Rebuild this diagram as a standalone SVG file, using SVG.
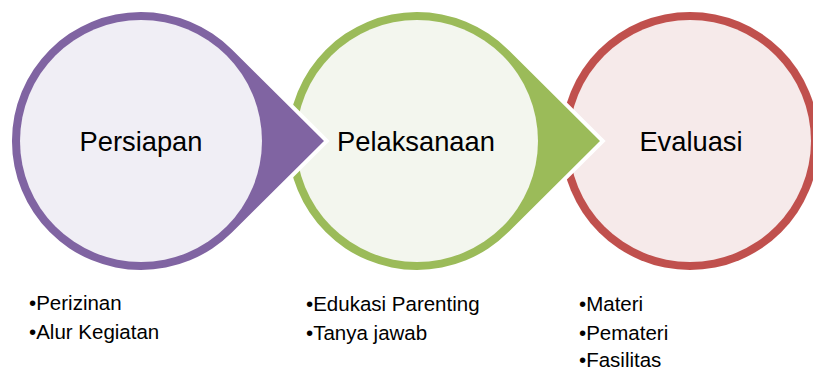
<svg xmlns="http://www.w3.org/2000/svg" width="813" height="371" viewBox="0 0 813 371">
  <style>
    .shape { stroke: #FFFFFF; stroke-width: 8; stroke-linejoin: miter; paint-order: stroke; }
    .label { font-family: "Liberation Sans", Arial, sans-serif; font-size: 27.3px; fill: #000000; text-anchor: middle; }
    .bullet { font-family: "Liberation Sans", Arial, sans-serif; font-size: 20.5px; fill: #000000; }
    .p1 { fill: #8064A2; } .f1 { fill: #F0EEF5; }
    .p2 { fill: #9BBB59; } .f2 { fill: #F3F6EE; }
    .p3 { fill: #C0504D; } .f3 { fill: #F6EAEA; }
  </style>
  <rect width="813" height="371" fill="#FFFFFF"/>
  <g id="connectors"/>
  <g id="node-evaluasi">
    <circle class="shape p3" cx="690" cy="141" r="129"/>
    <circle class="f3" cx="690" cy="141" r="121"/>
    <text class="label" x="691" y="151">Evaluasi</text>
    <text class="bullet" x="579" y="311">•Materi</text>
    <text class="bullet" x="579" y="340">•Pemateri</text>
    <text class="bullet" x="579" y="367">•Fasilitas</text>
  </g>
  <g id="node-pelaksanaan">
    <path class="shape p2" d="M600,141 L507.9,49.5 A129,129 0 1 0 507.9,232.5 Z"/>
    <circle class="f2" cx="417" cy="141" r="121"/>
    <text class="label" x="416" y="151">Pelaksanaan</text>
    <text class="bullet" x="306" y="311">•Edukasi Parenting</text>
    <text class="bullet" x="306" y="340">•Tanya jawab</text>
  </g>
  <g id="node-persiapan">
    <path class="shape p1" d="M324,141 L231.9,49.5 A129,129 0 1 0 231.9,232.5 Z"/>
    <circle class="f1" cx="141" cy="141" r="121"/>
    <text class="label" x="141" y="151">Persiapan</text>
    <text class="bullet" x="29" y="310">•Perizinan</text>
    <text class="bullet" x="29" y="339">•Alur Kegiatan</text>
  </g>
</svg>
